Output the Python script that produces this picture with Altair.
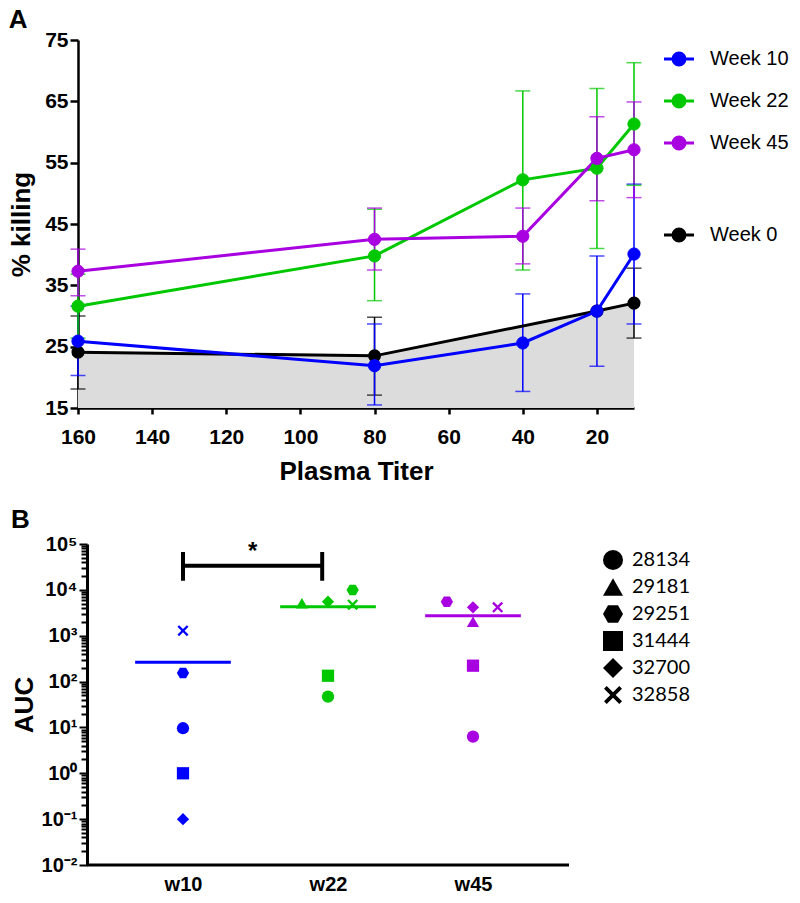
import json
import altair as alt
import pandas as pd

# ---------------- Panel A data ----------------
titers = [160, 80, 40, 20, 10]
week_names = ["Week 10", "Week 22", "Week 45"]
week_colors = ["#0000FF", "#00C800", "#A800E0"]
week10_mean = [25.9, 21.9, 25.6, 30.8, 40.1]
week10_low = [20.3, 15.5, 17.7, 21.8, 28.7]
week10_high = [31.6, 28.7, 33.6, 39.8, 51.5]
week22_mean = [31.6, 39.8, 52.2, 54.1, 61.3]
week22_low = [26.4, 32.5, 37.5, 41.0, 51.3]
week22_high = [36.8, 47.4, 66.7, 67.1, 71.3]
week45_mean = [37.3, 42.5, 43.0, 55.7, 57.1]
week45_low = [33.3, 37.5, 38.5, 48.8, 49.3]
week45_high = [40.9, 47.6, 47.6, 62.5, 64.9]

week0_name = "Week 0"
week0_titers = [160, 80, 20, 10]
week0_mean = [24.1, 23.5, 30.8, 32.1]
week0_low = [18.1, 17.1, None, 26.4]
week0_high = [30.0, 29.8, None, 37.8]

a_x_ticks = [160, 140, 120, 100, 80, 60, 40, 20]
a_y_ticks = [15, 25, 35, 45, 55, 65, 75]

# ---------------- Panel B data ----------------
b_groups = ["w10", "w22", "w45"]
b_colors = ["#0000FF", "#00C800", "#A800E0"]
b_animals = ["28134", "29181", "29251", "31444", "32700", "32858"]
b_w10 = [9.6, None, 154, 1.0, 0.1, 1290]
b_w22 = [46.8, 5090, 9930, 134, 5520, 4740]
b_w45 = [6.3, 2020, 5520, 222, 4170, 4170]
b_w10_jitter = [0, 0, 0, 0, 0, 0]
b_w22_jitter = [0, -0.18, 0.17, 0, 0, 0.17]
b_w45_jitter = [0, 0, -0.18, 0, 0, 0.17]
b_means = [263, 4290, 2730]
b_tick_labels = ["10\u207b\u00b2", "10\u207b\u00b9", "10\u2070", "10\u00b9",
                 "10\u00b2", "10\u00b3", "10\u2074", "10\u2075"]
b_x_extent = [-0.662, 2.662]
sig_pair = [0, 0.96]
sig_level = 33600
sig_ends = [15800, 67000]
sig_text = "*"

FONT = "Liberation Sans"

# ---------------- build tables ----------------
rows = []
for name, m, lo, hi in zip(week_names,
                           [week10_mean, week22_mean, week45_mean],
                           [week10_low, week22_low, week45_low],
                           [week10_high, week22_high, week45_high]):
    for t, a, b, c in zip(titers, m, lo, hi):
        rows.append({"week": name, "titer": t, "mean": a, "low": b, "high": c})
wk = pd.DataFrame(rows)
w0 = pd.DataFrame({"week": week0_name, "titer": week0_titers, "mean": week0_mean,
                   "low": week0_low, "high": week0_high})
w0_err = w0.dropna()

xscale = alt.Scale(domain=[10, 160], reverse=True, nice=False, zero=False)
yscale = alt.Scale(domain=[15, 75], nice=False, zero=False)
xaxis = alt.Axis(values=a_x_ticks, title="Plasma Titer", grid=False, labelFlush=False,
                 tickSize=6, tickWidth=2.5, domainWidth=2.5, domainColor="black", tickColor="black",
                 labelFont=FONT, labelFontWeight="bold", labelFontSize=21, labelColor="black",
                 labelPadding=12, titleFont=FONT, titleFontWeight="bold", titleFontSize=26,
                 titleColor="black", titlePadding=11)
yaxis = alt.Axis(values=a_y_ticks, title="% killing", grid=False, labelFlush=False,
                 tickSize=8, tickWidth=2.5, domainWidth=2.5, domainColor="black", tickColor="black",
                 labelFont=FONT, labelFontWeight="bold", labelFontSize=21, labelColor="black",
                 labelPadding=2, titleFont=FONT, titleFontWeight="bold", titleFontSize=26,
                 titleColor="black", titlePadding=10)

X = alt.X("titer:Q", scale=xscale, axis=xaxis)


def Y(field):
    return alt.Y(f"{field}:Q", scale=yscale, axis=yaxis, title="% killing")


legend_path = "M-2.5,0L2.5,0M-1,0A1,1,0,1,1,1,0A1,1,0,1,1,-1,0Z"
wk_legend = alt.Legend(title=None, orient="none", legendX=591, legendY=9, symbolType=legend_path,
                       symbolSize=144, symbolStrokeWidth=3, labelFont=FONT, labelFontSize=20,
                       labelColor="black", labelOffset=21, rowPadding=18, padding=0)
w0_legend = alt.Legend(title=None, orient="none", legendX=591, legendY=185, symbolType=legend_path,
                       symbolSize=144, symbolStrokeWidth=3, symbolFillColor="black",
                       symbolStrokeColor="black", labelFont=FONT, labelFontSize=20,
                       labelColor="black", labelOffset=21, padding=0)
wscale = alt.Scale(domain=week_names, range=week_colors)
STROKE = alt.Stroke("week:N", scale=wscale, legend=wk_legend)
FILL = alt.Fill("week:N", scale=wscale, legend=wk_legend)
COLOR0 = alt.Color("week:N", scale=alt.Scale(domain=[week0_name], range=["black"]), legend=w0_legend)

area = alt.Chart(w0).mark_area(color="#dcdcdc").encode(x=X, y=Y("mean"), y2=alt.datum(15))

w0_rule = alt.Chart(w0_err).mark_rule(color="black", strokeWidth=1.5).encode(x=X, y=Y("low"), y2="high:Q")
w0_caps = alt.Chart(w0_err).transform_fold(["low", "high"], as_=["kind", "val"]).mark_tick(
    color="black", orient="horizontal", size=15, thickness=1.5).encode(x=X, y=Y("val"))

wk_rule = alt.Chart(wk).mark_rule(strokeWidth=1.5).encode(x=X, y=Y("low"), y2="high:Q", stroke=STROKE)
wk_caps = alt.Chart(wk).transform_fold(["low", "high"], as_=["kind", "val"]).mark_tick(
    orient="horizontal", size=15, thickness=1.5).encode(x=X, y=Y("val"), fill=FILL)

w0_line = alt.Chart(w0).mark_line(strokeWidth=3).encode(x=X, y=Y("mean"), color=COLOR0)
w0_pts = alt.Chart(w0).mark_point(filled=True, shape="circle", size=170, opacity=1).encode(
    x=X, y=Y("mean"), color=COLOR0)

wk_line = alt.Chart(wk).mark_line(strokeWidth=3).encode(x=X, y=Y("mean"), stroke=STROKE)
wk_pts = alt.Chart(wk).mark_point(filled=True, shape="circle", size=150, strokeWidth=1, opacity=1).encode(
    x=X, y=Y("mean"), fill=FILL, stroke=STROKE)

panel_a = alt.layer(area, w0_rule, w0_caps, wk_rule, wk_caps, w0_line, w0_pts, wk_line, wk_pts).properties(
    width=556, height=368,
    title=alt.TitleParams("A", anchor="start", frame="bounds", font=FONT, fontSize=26,
                          fontWeight="bold", color="black", offset=-4))

# ---------------- Panel B ----------------
brows = []
for gi, (g, vals, jit) in enumerate(zip(b_groups, [b_w10, b_w22, b_w45],
                                         [b_w10_jitter, b_w22_jitter, b_w45_jitter])):
    for an, v, j in zip(b_animals, vals, jit):
        if v is not None:
            brows.append({"group": g, "gi": gi, "animal": an, "auc": v, "xpos": gi + j})
bdf = pd.DataFrame(brows)
mdf = pd.DataFrame({"group": b_groups, "gi": list(range(len(b_groups))), "mean": b_means})
sig_df = pd.DataFrame({"x1": [sig_pair[0]], "x2": [sig_pair[1]], "y": [sig_level],
                       "lo": [sig_ends[0]], "hi": [sig_ends[1]], "label": [sig_text]})
sig_v = pd.DataFrame({"x": sig_pair, "lo": sig_ends[0], "hi": sig_ends[1]})
base_df = pd.DataFrame({"x1": [b_x_extent[0]], "x2": [b_x_extent[1]], "y": [0.01]})

minor_vals = []
for e in range(-2, 5):
    for k in range(1, 10):
        minor_vals.append(float(f"{k}e{e}"))
minor_vals.append(1e5)

is_major = "abs(log(datum.value)/LN10 - round(log(datum.value)/LN10)) < 0.001"
b_label_expr = (f"({is_major}) ? {json.dumps(b_tick_labels, ensure_ascii=False)}"
                f"[round(log(datum.value)/LN10) + 2] : ''")

bx_scale = alt.Scale(domain=[-0.724, b_x_extent[1]], nice=False, zero=False)
by_scale = alt.Scale(type="log", domain=[0.01, 100000], nice=False)
bx_axis = alt.Axis(values=[0, 1, 2], labelExpr=f"{json.dumps(b_groups)}[datum.value]", title=None,
                   grid=False, ticks=False, domain=False, labelFont=FONT,
                   labelFontWeight="bold", labelFontSize=20, labelColor="black", labelPadding=9,
                   labelFlush=False)
by_axis = alt.Axis(values=minor_vals, labelExpr=b_label_expr, title="AUC", grid=False,
                   labelOverlap=False, labelFlush=False, offset=-9,
                   tickSize={"condition": {"test": is_major, "value": 8}, "value": 6},
                   tickWidth=2, domainWidth=3, domainColor="black", tickColor="black",
                   labelFont=FONT, labelFontWeight="bold", labelFontSize=20, labelColor="black",
                   labelPadding=2, titleFont=FONT, titleFontWeight="bold", titleFontSize=26,
                   titleColor="black", titlePadding=4)


def BX(f):
    return alt.X(f"{f}:Q", scale=bx_scale, axis=bx_axis, title=None)


def BY(f):
    return alt.Y(f"{f}:Q", scale=by_scale, axis=by_axis, title="AUC")


hex_path = "M-1,0L-0.5,-0.866L0.5,-0.866L1,0L0.5,0.866L-0.5,0.866Z"
x_path = ("M-0.9,-0.63L-0.63,-0.9L0,-0.27L0.63,-0.9L0.9,-0.63L0.27,0L0.9,0.63L0.63,0.9L0,0.27"
          "L-0.63,0.9L-0.9,0.63L-0.27,0Z")
shape_range = ["circle", "triangle-up", hex_path, "square", "diamond", x_path]
gcolor = alt.Color("group:N", scale=alt.Scale(domain=b_groups, range=b_colors), legend=None)

b_pts = alt.Chart(bdf).mark_point(filled=True, size=150, opacity=1).encode(
    x=BX("xpos"), y=BY("auc"), color=gcolor,
    shape=alt.Shape("animal:N", scale=alt.Scale(domain=b_animals, range=shape_range),
                    legend=alt.Legend(title=None, orient="none", legendX=525, legendY=6,
                                      symbolSize=400, symbolFillColor="black",
                                      symbolStrokeColor="black", symbolStrokeWidth=0,
                                      labelFont="Lato", labelFontSize=20, labelColor="black",
                                      labelOffset=9, rowPadding=7, padding=0)))
b_base = alt.Chart(base_df).mark_rule(color="black", strokeWidth=3).encode(
    x=BX("x1"), x2="x2:Q", y=BY("y"))
b_mean = alt.Chart(mdf).transform_calculate(x1="datum.gi - 0.33", x2="datum.gi + 0.33").mark_rule(
    strokeWidth=3).encode(x=BX("x1"), x2="x2:Q", y=BY("mean"), color=gcolor)
b_sig_h = alt.Chart(sig_df).mark_rule(color="black", strokeWidth=4).encode(
    x=BX("x1"), x2="x2:Q", y=BY("y"))
b_sig_v = alt.Chart(sig_v).mark_rule(color="black", strokeWidth=4).encode(
    x=BX("x"), y=BY("lo"), y2="hi:Q")
b_sig_t = alt.Chart(sig_df).transform_calculate(xm="(datum.x1 + datum.x2) / 2").mark_text(
    font=FONT, fontSize=24, fontWeight="bold", color="black", baseline="bottom", dy=-2).encode(
    x=BX("xm"), y=BY("y"), text="label:N")

panel_b = alt.layer(b_base, b_mean, b_sig_h, b_sig_v, b_sig_t, b_pts).properties(
    width=491, height=321,
    title=alt.TitleParams("B", anchor="start", frame="bounds", font=FONT, fontSize=26,
                          fontWeight="bold", color="black", offset=1))

chart = alt.concat(panel_a, panel_b, columns=1, align="none", spacing=23).properties(
    padding={"left": 0, "top": -1, "right": 0, "bottom": 0}
).configure_view(stroke=None).resolve_scale(
    x="independent", y="independent", color="independent", fill="independent",
    stroke="independent", shape="independent"
).resolve_legend(color="independent", fill="independent", stroke="independent", shape="independent")

chart.save("out.html", embed_options={"renderer": "svg", "actions": False})
